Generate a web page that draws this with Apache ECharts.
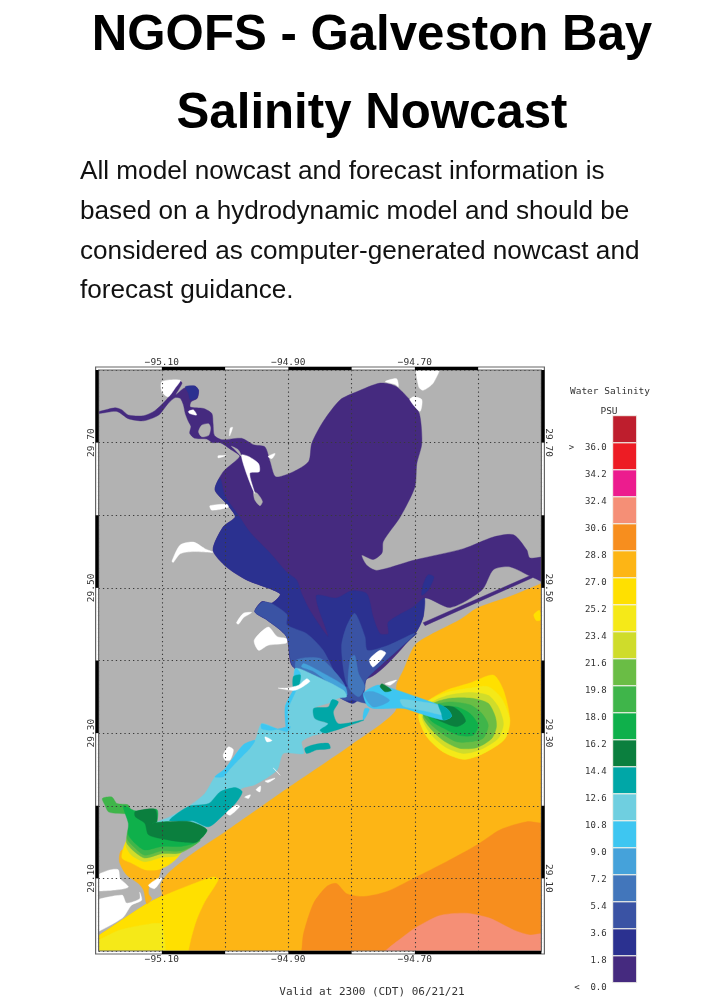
<!DOCTYPE html>
<html>
<head>
<meta charset="utf-8">
<script src="https://cdn.jsdelivr.net/npm/echarts@6/dist/echarts.min.js"></script>
<style>
  html, body { margin: 0; background: #fff; }
  #chart { width: 724px; height: 1000px; }
</style>
</head>
<body>
<div id="chart"></div>
<script>
const headline = ["NGOFS - Galveston Bay", "Salinity Nowcast"];
const introLines = [
  "All model nowcast and forecast information is",
  "based on a hydrodynamic model and should be",
  "considered as computer-generated nowcast and",
  "forecast guidance.",
];
const lonLabels = [-95.1, -94.9, -94.7];
const latLabels = [29.7, 29.5, 29.3, 29.1];
const blackTop = [[-95.1, -95.0], [-94.9, -94.8], [-94.7, -94.6]];
const blackBottom = [[-95.1, -95.0], [-94.9, -94.8], [-94.7, -94.5]];
const blackLat = [[29.7, 29.8], [29.5, 29.6], [29.3, 29.4], [29.1, 29.2]];

// colour bar, bottom cell first, one cell per 1.8 PSU
const barEdges = [0, 1.8, 3.6, 5.4, 7.2, 9, 10.8, 12.6, 14.4, 16.2, 18, 19.8, 21.6, 23.4, 25.2, 27, 28.8, 30.6, 32.4, 34.2, 36];
const barColors = ["#452a7f", "#2b3190", "#3a53a4", "#4276bb", "#45a2da", "#3ec6f1", "#6fcfe0", "#00a7a7", "#0b7f3e", "#0fb04b", "#3fb54a", "#6abd45", "#cfdc2b", "#f5e918", "#ffe000", "#fdb515", "#f78e1e", "#f58f76", "#ec1c8e", "#ed1c24", "#be1e2d"];

// contour rings, [lon, lat]; rings run past the frame where they meet it
const gulf = [[-95.23,29.003],[-95.2,29.021],[-95.124,29.065],[-95.1,29.077],[-95.102,29.091],[-95.09,29.107],[-95.055,29.132],[-95,29.164],[-94.903,29.223],[-94.8,29.284],[-94.731,29.33],[-94.729,29.366],[-94.718,29.387],[-94.7,29.421],[-94.676,29.435],[-94.629,29.456],[-94.602,29.472],[-94.55,29.488],[-94.5,29.506],[-94.47,29.517],[-94.47,28.97],[-95.23,28.97]];
const gulfOrange = [[-94.885,28.97],[-94.879,29],[-94.876,29.024],[-94.86,29.066],[-94.839,29.089],[-94.824,29.093],[-94.808,29.079],[-94.781,29.075],[-94.744,29.082],[-94.702,29.1],[-94.65,29.123],[-94.602,29.146],[-94.565,29.167],[-94.523,29.178],[-94.5,29.176],[-94.47,29.176],[-94.47,28.97]];
const gulfSalmon = [[-94.78,28.97],[-94.747,29],[-94.718,29.02],[-94.697,29.033],[-94.66,29.049],[-94.618,29.052],[-94.581,29.045],[-94.544,29.029],[-94.518,29.022],[-94.5,29.024],[-94.47,29.024],[-94.47,28.97]];
const gulfYellow = [[-95.23,29.003],[-95.2,29.021],[-95.124,29.065],[-95.103,29.074],[-95.055,29.091],[-95.018,29.102],[-95.011,29.098],[-95.032,29.068],[-95.045,29.043],[-95.053,29.02],[-95.058,29],[-95.063,28.97],[-95.23,28.97]];
const gulfPale = [[-95.23,29.003],[-95.2,29.015],[-95.166,29.029],[-95.121,29.037],[-95.1,29.036],[-95.1,28.97],[-95.23,28.97]];
const gulfSpot = [[-94.512,29.463],[-94.503,29.469],[-94.501,29.456],[-94.508,29.455]];

const plumeYellow = [[-94.694,29.323],[-94.681,29.343],[-94.65,29.359],[-94.613,29.369],[-94.576,29.38],[-94.56,29.359],[-94.55,29.318],[-94.56,29.29],[-94.597,29.27],[-94.623,29.264],[-94.655,29.274],[-94.681,29.295]];
const plumePale = [[-94.694,29.323],[-94.681,29.343],[-94.65,29.356],[-94.613,29.362],[-94.584,29.364],[-94.563,29.348],[-94.55,29.318],[-94.557,29.293],[-94.592,29.272],[-94.623,29.264],[-94.655,29.274],[-94.681,29.295]];
const plumeLime = [[-94.689,29.323],[-94.676,29.341],[-94.647,29.352],[-94.613,29.356],[-94.584,29.352],[-94.568,29.336],[-94.56,29.313],[-94.568,29.293],[-94.597,29.277],[-94.623,29.272],[-94.652,29.281],[-94.676,29.3]];
const plumeGrass = [[-94.687,29.323],[-94.671,29.341],[-94.644,29.348],[-94.61,29.348],[-94.584,29.341],[-94.573,29.323],[-94.571,29.309],[-94.578,29.293],[-94.602,29.28],[-94.629,29.279],[-94.652,29.288],[-94.673,29.304]];
const plumeGreen = [[-94.687,29.327],[-94.668,29.339],[-94.644,29.343],[-94.613,29.339],[-94.594,29.327],[-94.584,29.311],[-94.592,29.293],[-94.613,29.288],[-94.634,29.288],[-94.658,29.3],[-94.676,29.313]];
const plumeEmerald = [[-94.681,29.327],[-94.66,29.334],[-94.634,29.336],[-94.613,29.327],[-94.6,29.311],[-94.608,29.297],[-94.631,29.297],[-94.655,29.307],[-94.673,29.316]];
const plumeDark = [[-94.676,29.325],[-94.655,29.337],[-94.639,29.336],[-94.626,29.327],[-94.62,29.316],[-94.634,29.309],[-94.658,29.316]];
const jetBlue = [[-94.781,29.355],[-94.76,29.366],[-94.745,29.364],[-94.681,29.345],[-94.65,29.334],[-94.642,29.323],[-94.655,29.318],[-94.692,29.327],[-94.718,29.334],[-94.766,29.334],[-94.776,29.339]];
const jetMid = [[-94.781,29.355],[-94.765,29.357],[-94.74,29.345],[-94.766,29.336]];
const jetPale = [[-94.723,29.346],[-94.681,29.342],[-94.658,29.337],[-94.643,29.324],[-94.658,29.325],[-94.687,29.331],[-94.718,29.337]];
const jetTeal = [[-94.663,29.34],[-94.647,29.332],[-94.642,29.323],[-94.655,29.318],[-94.658,29.327]];
const jetGreen = [[-94.752,29.368],[-94.737,29.359],[-94.747,29.357],[-94.755,29.364]];

const upperBay = [[-95.21,29.743],[-95.199,29.743],[-95.174,29.748],[-95.163,29.745],[-95.153,29.738],[-95.129,29.737],[-95.111,29.744],[-95.091,29.761],[-95.073,29.785],[-95.068,29.782],[-95.078,29.766],[-95.065,29.775],[-95.048,29.778],[-95.042,29.772],[-95.044,29.761],[-95.054,29.756],[-95.055,29.749],[-95.034,29.747],[-95.021,29.74],[-95.019,29.726],[-95.017,29.71],[-95.005,29.704],[-94.974,29.706],[-94.955,29.697],[-94.937,29.694],[-94.929,29.674],[-94.92,29.653],[-94.892,29.66],[-94.868,29.674],[-94.863,29.699],[-94.845,29.729],[-94.818,29.759],[-94.792,29.77],[-94.755,29.782],[-94.731,29.778],[-94.708,29.759],[-94.693,29.74],[-94.689,29.699],[-94.697,29.671],[-94.7,29.639],[-94.723,29.598],[-94.75,29.564],[-94.752,29.548],[-94.766,29.539],[-94.784,29.545],[-94.776,29.531],[-94.76,29.524],[-94.702,29.538],[-94.623,29.554],[-94.576,29.57],[-94.544,29.573],[-94.523,29.552],[-94.518,29.541],[-94.47,29.544],[-94.47,29.5],[-94.515,29.515],[-94.55,29.529],[-94.576,29.525],[-94.594,29.497],[-94.644,29.473],[-94.684,29.486],[-94.687,29.46],[-94.7,29.437],[-94.776,29.375],[-94.892,29.391],[-94.903,29.433],[-94.934,29.456],[-94.953,29.467],[-94.942,29.481],[-94.926,29.479],[-94.913,29.492],[-94.966,29.511],[-94.998,29.529],[-95.019,29.552],[-95.003,29.584],[-94.984,29.598],[-94.998,29.616],[-95.016,29.635],[-95.003,29.66],[-94.977,29.681],[-94.99,29.69],[-95.008,29.7],[-95.02,29.7],[-95.029,29.705],[-95.048,29.706],[-95.056,29.713],[-95.054,29.722],[-95.058,29.729],[-95.063,29.74],[-95.066,29.752],[-95.071,29.761],[-95.079,29.762],[-95.09,29.754],[-95.105,29.738],[-95.129,29.73],[-95.153,29.733],[-95.171,29.743],[-95.199,29.74],[-95.21,29.74]];
const shipPurple = [[-94.687,29.452],[-94.515,29.518],[-94.514,29.514],[-94.684,29.448]];
const midBay = [[-95.016,29.635],[-95.008,29.651],[-95,29.626],[-94.979,29.6],[-94.961,29.577],[-94.929,29.548],[-94.903,29.522],[-94.887,29.511],[-94.879,29.492],[-94.866,29.469],[-94.837,29.433],[-94.853,29.474],[-94.855,29.49],[-94.824,29.486],[-94.8,29.496],[-94.776,29.492],[-94.766,29.46],[-94.755,29.437],[-94.742,29.437],[-94.742,29.453],[-94.702,29.474],[-94.685,29.486],[-94.687,29.46],[-94.7,29.437],[-94.776,29.375],[-94.781,29.355],[-94.797,29.341],[-94.813,29.346],[-94.892,29.391],[-94.903,29.433],[-94.934,29.456],[-94.953,29.467],[-94.942,29.481],[-94.926,29.479],[-94.913,29.492],[-94.966,29.511],[-94.998,29.529],[-95.019,29.552],[-95.003,29.584],[-94.984,29.598],[-94.998,29.616]];
const midStreak = [[-94.679,29.518],[-94.67,29.515],[-94.679,29.497],[-94.689,29.49],[-94.687,29.504]];
const riverBasin = [[-95.063,29.777],[-95.048,29.778],[-95.042,29.772],[-95.045,29.761],[-95.055,29.759],[-95.058,29.768]];
const shipBlue = [[-94.7,29.44],[-94.784,29.375],[-94.781,29.373],[-94.697,29.437]];
const lowerWest = [[-94.953,29.467],[-94.942,29.48],[-94.928,29.479],[-94.916,29.473],[-94.902,29.463],[-94.902,29.449],[-94.871,29.437],[-94.845,29.414],[-94.821,29.373],[-94.8,29.346],[-94.813,29.346],[-94.892,29.391],[-94.903,29.433],[-94.934,29.456]];
const lowerEast = [[-94.816,29.419],[-94.808,29.447],[-94.795,29.465],[-94.779,29.433],[-94.775,29.414],[-94.742,29.421],[-94.7,29.437],[-94.776,29.375],[-94.789,29.35],[-94.808,29.368]];
const lowerMouth = [[-94.808,29.364],[-94.781,29.357],[-94.771,29.341],[-94.787,29.343],[-94.802,29.348]];
const entranceEast = [[-94.802,29.403],[-94.795,29.407],[-94.789,29.382],[-94.779,29.364],[-94.789,29.35],[-94.805,29.364]];
const entranceWest = [[-94.887,29.401],[-94.85,29.403],[-94.824,29.382],[-94.81,29.364],[-94.813,29.35],[-94.85,29.368],[-94.887,29.384]];
const entranceStripe = [[-94.876,29.396],[-94.85,29.385],[-94.81,29.364],[-94.808,29.352],[-94.86,29.385],[-94.879,29.391]];

const westBay = [[-94.889,29.389],[-94.86,29.38],[-94.813,29.359],[-94.808,29.35],[-94.821,29.348],[-94.831,29.343],[-94.86,29.334],[-94.858,29.32],[-94.834,29.311],[-94.847,29.3],[-94.86,29.297],[-94.879,29.288],[-94.876,29.272],[-94.908,29.272],[-94.918,29.249],[-94.953,29.229],[-94.973,29.224],[-94.987,29.21],[-95,29.19],[-95.029,29.171],[-95.071,29.18],[-95.114,29.175],[-95.087,29.185],[-95.058,29.199],[-95.032,29.217],[-95.016,29.24],[-95,29.251],[-94.971,29.284],[-94.953,29.29],[-94.942,29.313],[-94.903,29.302],[-94.905,29.336],[-94.892,29.359]];
const westShore = [[-95,29.251],[-94.971,29.284],[-94.953,29.29],[-94.961,29.279],[-94.979,29.263],[-94.992,29.251],[-95.003,29.24],[-95.016,29.24]];
const westNotch = [[-94.942,29.313],[-94.903,29.302],[-94.897,29.309],[-94.926,29.304],[-94.942,29.306]];
const westNorth = [[-94.892,29.359],[-94.905,29.336],[-94.903,29.302],[-94.9,29.311],[-94.901,29.332],[-94.888,29.359]];
const westInlet = [[-94.889,29.389],[-94.881,29.382],[-94.887,29.359],[-94.892,29.359]];
const pelicanEdge = [[-94.779,29.334],[-94.772,29.333],[-94.781,29.318],[-94.782,29.323]];
const tealHook = [[-94.86,29.334],[-94.837,29.336],[-94.831,29.346],[-94.821,29.343],[-94.829,29.329],[-94.821,29.313],[-94.781,29.318],[-94.802,29.311],[-94.842,29.3],[-94.85,29.304],[-94.837,29.313],[-94.858,29.32]];
const tealBar = [[-94.874,29.279],[-94.86,29.284],[-94.837,29.286],[-94.834,29.279],[-94.855,29.277],[-94.871,29.272]];
const tealInlet = [[-94.892,29.378],[-94.881,29.38],[-94.884,29.364],[-94.892,29.362]];
const tealSouth = [[-95.088,29.18],[-95.058,29.199],[-95.026,29.203],[-95.008,29.219],[-94.984,29.225],[-94.973,29.219],[-94.984,29.203],[-95.003,29.187],[-95.026,29.171],[-95.05,29.179],[-95.071,29.178]];

const chocOrange = [[-95.167,29.123],[-95.163,29.139],[-95.075,29.139],[-95.083,29.126],[-95.1,29.114],[-95.106,29.1],[-95.119,29.091],[-95.121,29.079],[-95.116,29.072],[-95.124,29.065],[-95.129,29.084],[-95.137,29.093],[-95.156,29.105]];
const chocYellow = [[-95.163,29.128],[-95.159,29.146],[-95.148,29.16],[-95.055,29.16],[-95.075,29.129],[-95.09,29.118],[-95.106,29.112],[-95.127,29.112],[-95.148,29.121]];
const chocLime = [[-95.157,29.146],[-95.148,29.132],[-95.127,29.123],[-95.1,29.129],[-95.074,29.132],[-95.055,29.16],[-95.148,29.16]];
const chocGrass = [[-95.156,29.15],[-95.145,29.138],[-95.127,29.128],[-95.1,29.134],[-95.071,29.135],[-95.045,29.15],[-95.15,29.166]];
const chocGreen = [[-95.155,29.155],[-95.145,29.144],[-95.127,29.132],[-95.1,29.138],[-95.069,29.138],[-95.04,29.153],[-95.15,29.171]];
const chocTip = [[-95.194,29.21],[-95.179,29.212],[-95.171,29.203],[-95.153,29.201],[-95.15,29.19],[-95.177,29.19],[-95.185,29.192],[-95.19,29.201]];
const chocEmerald = [[-95.161,29.2],[-95.142,29.193],[-95.108,29.195],[-95.108,29.178],[-95.116,29.176],[-95.09,29.178],[-95.029,29.167],[-95.045,29.15],[-95.069,29.144],[-95.1,29.144],[-95.127,29.139],[-95.142,29.148],[-95.153,29.16],[-95.153,29.176]];
const chocDark = [[-95.142,29.192],[-95.111,29.195],[-95.108,29.178],[-95.116,29.176],[-95.09,29.178],[-95.055,29.178],[-95.029,29.167],[-95.045,29.15],[-95.066,29.15],[-95.09,29.153],[-95.121,29.16],[-95.127,29.176],[-95.142,29.185]];

const greyIslands = [
  [[-95.042,29.715],[-95.037,29.724],[-95.026,29.726],[-95.023,29.72],[-95.026,29.71],[-95.037,29.708]],
  [[-94.955,29.632],[-94.949,29.63],[-94.941,29.619],[-94.945,29.613],[-94.953,29.621]],
  [[-94.99,29.695],[-94.979,29.69],[-94.974,29.681],[-94.984,29.69]],
];
const whiteIslands = [
  [[-95.058,29.743],[-95.05,29.745],[-95.045,29.738],[-95.056,29.74]],
  [[-94.974,29.683],[-94.963,29.681],[-94.947,29.671],[-94.946,29.66],[-94.961,29.658],[-94.953,29.63],[-94.958,29.639],[-94.968,29.662]],
  [[-95.1,29.784],[-95.071,29.786],[-95.079,29.775],[-95.09,29.763],[-95.1,29.77]],
  [[-94.697,29.81],[-94.659,29.81],[-94.671,29.782],[-94.687,29.772],[-94.694,29.777]],
  [[-94.702,29.763],[-94.689,29.759],[-94.692,29.743],[-94.708,29.759]],
  [[-94.747,29.784],[-94.729,29.788],[-94.726,29.777],[-94.731,29.78]],
  [[-95.024,29.613],[-94.997,29.615],[-94.995,29.611],[-95.021,29.607]],
  [[-95.084,29.537],[-95.071,29.559],[-95.05,29.563],[-95.032,29.554],[-95.019,29.549],[-95.05,29.55],[-95.071,29.547],[-95.082,29.535]],
  [[-94.982,29.452],[-94.971,29.465],[-94.958,29.466],[-94.971,29.459],[-94.979,29.45]],
  [[-94.954,29.428],[-94.932,29.446],[-94.918,29.433],[-94.903,29.43],[-94.903,29.424],[-94.932,29.421],[-94.947,29.414]],
  [[-94.772,29.401],[-94.755,29.414],[-94.746,29.41],[-94.766,29.391]],
  [[-95.011,29.682],[-94.999,29.682],[-95.011,29.679]],
  [[-94.992,29.72],[-94.988,29.721],[-94.993,29.709]],
  [[-94.932,29.681],[-94.921,29.685],[-94.926,29.678]],
  [[-95.21,29.1],[-95.185,29.111],[-95.169,29.112],[-95.166,29.1],[-95.153,29.088],[-95.174,29.084],[-95.21,29.084]],
  [[-95.22,29.063],[-95.163,29.077],[-95.156,29.066],[-95.135,29.072],[-95.135,29.081],[-95.132,29.07],[-95.148,29.063],[-95.163,29.045],[-95.22,29.022]],
  [[-95.121,29.091],[-95.106,29.1],[-95.1,29.1],[-95.111,29.086],[-95.119,29.088]],
  [[-95.003,29.27],[-94.995,29.281],[-94.987,29.277],[-94.992,29.263],[-95,29.263]],
  [[-94.937,29.295],[-94.926,29.29],[-94.934,29.288]],
  [[-94.916,29.362],[-94.889,29.359],[-94.866,29.371],[-94.871,29.375],[-94.884,29.366],[-94.903,29.362]],
  [[-94.951,29.222],[-94.944,29.227],[-94.945,29.219]],
  [[-94.937,29.234],[-94.921,29.238],[-94.932,29.232]],
  [[-94.924,29.252],[-94.913,29.242],[-94.918,29.247]],
  [[-94.969,29.212],[-94.96,29.215],[-94.963,29.21]],
  [[-94.998,29.19],[-94.982,29.201],[-94.977,29.199],[-94.992,29.187]],
  [[-94.747,29.368],[-94.729,29.373],[-94.739,29.366]],
];

// paint order, ring then the salinity read for it
const contours = [
  [gulf, 27.9], [gulfOrange, 29.7], [gulfSalmon, 31.5], [gulfYellow, 26.1], [gulfPale, 24.3], [gulfSpot, 26.1],
  [plumeYellow, 26.1], [plumePale, 24.3], [plumeLime, 22.5], [plumeGrass, 20.7], [plumeGreen, 18.9], [plumeEmerald, 17.1], [plumeDark, 15.3],
  [upperBay, 0.9], [shipPurple, 0.9], [midBay, 2.7], [midStreak, 2.7], [riverBasin, 2.7], [shipBlue, 2.7],
  [lowerWest, 4.5], [lowerEast, 4.5], [lowerMouth, 4.5], [entranceEast, 6.3], [entranceWest, 6.3], [entranceStripe, 8.1],
  [westBay, 11.7], [westShore, 9.9], [westNotch, 9.9], [westNorth, 9.9], [westInlet, 9.9], [pelicanEdge, 9.9],
  [tealHook, 13.5], [tealBar, 13.5], [tealInlet, 13.5], [tealSouth, 13.5],
  [jetBlue, 9.9], [jetMid, 8.1], [jetPale, 11.7], [jetTeal, 13.5], [jetGreen, 15.3],
  [chocOrange, 27.9], [chocYellow, 26.1], [chocLime, 22.5], [chocGrass, 20.7], [chocGreen, 18.9], [chocTip, 18.9], [chocEmerald, 17.1], [chocDark, 15.3],
];

const TICK_FONT = "DejaVu Sans Mono";
const TICK_COLOR = "#333";
const thinRings = [shipPurple, shipBlue];

function ringFill(ring, fill) {
  return { ring, fill };
}

const mapShapes = [
  ...contours.map(([ring, psu]) => ringFill(ring, barColors[Math.floor(psu / 1.8)])),
  ...greyIslands.map((ring) => ringFill(ring, "#b2b2b2")),
  ...whiteIslands.map((ring) => ringFill(ring, "#ffffff")),
];

function renderShape(params, api) {
  const shape = mapShapes[params.dataIndex];
  return {
    type: "polygon",
    shape: { points: shape.ring.map((p) => api.coord(p)), smooth: thinRings.includes(shape.ring) ? 0 : 0.25 },
    style: { fill: shape.fill, stroke: shape.fill, lineWidth: 0.4 },
  };
}

function renderFrame(params, api) {
  const sys = params.coordSys;
  const thin = { fill: "none", stroke: "#666", lineWidth: 1.2 };
  const pad = 3;
  const children = [
    { type: "rect", shape: { x: sys.x, y: sys.y, width: sys.width, height: sys.height }, style: thin },
    { type: "rect", shape: { x: sys.x - pad, y: sys.y - pad, width: sys.width + 2 * pad, height: sys.height + 2 * pad }, style: thin },
  ];
  const lonBand = (list, y) => list.forEach(([a, b]) => {
    const x0 = api.coord([a, 29])[0];
    const x1 = api.coord([b, 29])[0];
    children.push({ type: "rect", shape: { x: x0, y, width: x1 - x0, height: pad }, style: { fill: "#000" } });
  });
  lonBand(blackTop, sys.y - pad);
  lonBand(blackBottom, sys.y + sys.height);
  blackLat.forEach(([a, b]) => {
    const y0 = api.coord([-95, b])[1];
    const y1 = api.coord([-95, a])[1];
    [sys.x - pad, sys.x + sys.width].forEach((x) => {
      children.push({ type: "rect", shape: { x, y: y0, width: pad, height: y1 - y0 }, style: { fill: "#000" } });
    });
  });
  return { type: "group", children };
}

function renderCell(params, api) {
  const low = barEdges[params.dataIndex];
  const a = api.coord([0, low + 1.8]);
  const b = api.coord([1, low]);
  return {
    type: "rect",
    shape: { x: a[0], y: a[1], width: b[0] - a[0], height: b[1] - a[1] },
    style: { fill: barColors[params.dataIndex], stroke: "#f2f2ea", lineWidth: 1 },
  };
}

function isLabelled(list, v) {
  return list.some((t) => Math.abs(t - v) < 0.001);
}

function lonAxis(position, margin) {
  return {
    type: "value", gridIndex: 0, position, min: -95.2, max: -94.5, interval: 0.1, z: 6,
    axisLine: { show: false }, axisTick: { show: false },
    axisLabel: {
      margin, fontFamily: TICK_FONT, fontSize: 9.5, color: TICK_COLOR,
      formatter: (v) => (isLabelled(lonLabels, v) ? v.toFixed(2).replace("-", "\u2212") : ""),
    },
    splitLine: { show: position === "bottom", lineStyle: { color: "#3a3a3a", width: 1.1, type: [1.3, 3] } },
  };
}

function latAxis(position, rotate) {
  return {
    type: "value", gridIndex: 0, position, min: 29, max: 29.8, interval: 0.1, z: 6,
    axisLine: { show: false }, axisTick: { show: false },
    axisLabel: {
      rotate, margin: 2, fontFamily: TICK_FONT, fontSize: 9.5, color: TICK_COLOR,
      formatter: (v) => (isLabelled(latLabels, v) ? v.toFixed(2) : ""),
    },
    splitLine: { show: position === "left", lineStyle: { color: "#3a3a3a", width: 1.1, type: [1.3, 3] } },
  };
}

function caption(text, left, top, style) {
  return { text, left, top, textAlign: style.textAlign || "left", textVerticalAlign: "middle", padding: 0, textStyle: style };
}

const headStyle = { fontFamily: "Liberation Sans", fontSize: 49.2, fontWeight: "bold", color: "#000", textAlign: "center" };
const bodyStyle = { fontFamily: "Liberation Sans", fontSize: 26.15, fontWeight: "normal", color: "#111" };
const smallStyle = { fontFamily: TICK_FONT, fontSize: 9.5, fontWeight: "normal", color: TICK_COLOR, textAlign: "center" };

const chart = echarts.init(document.getElementById("chart"), null, { renderer: "canvas" });
chart.setOption({
  animation: false,
  backgroundColor: "#fff",
  title: [
    caption(headline[0], 372, 36, headStyle),
    caption(headline[1], 372, 114, headStyle),
    ...introLines.map((line, i) => caption(line, 80, 172 + i * 39.7, bodyStyle)),
    caption("Water Salinity", 610, 392, smallStyle),
    caption("PSU", 609, 412, smallStyle),
    caption("Valid at 2300 (CDT) 06/21/21", 372, 992, { ...smallStyle, fontSize: 11 }),
  ],
  grid: [
    { left: 98.6, top: 370, width: 442.8, height: 581, show: true, backgroundColor: "#b2b2b2", borderWidth: 0 },
    { left: 612.7, top: 415.7, width: 24, height: 567 },
  ],
  xAxis: [
    lonAxis("bottom", 3.5),
    lonAxis("top", 2),
    { type: "value", gridIndex: 1, min: 0, max: 1, show: false },
  ],
  yAxis: [
    latAxis("left", 90),
    latAxis("right", -90),
    {
      type: "value", gridIndex: 1, min: 0, max: 37.8, interval: 1.8,
      axisLine: { show: false }, axisTick: { show: false }, splitLine: { show: false },
      axisLabel: {
        margin: 6, fontFamily: TICK_FONT, fontSize: 9, color: TICK_COLOR, verticalAlign: "top",
        formatter: (v) => {
          if (!isLabelled(barEdges, v)) return "";
          if (v < 0.1) return "<  0.0";
          if (v > 35.9) return ">  36.0";
          return v.toFixed(1);
        },
      },
    },
  ],
  series: [
    {
      type: "custom", xAxisIndex: 0, yAxisIndex: 0, clip: true, z: 2, silent: true,
      data: mapShapes.map((s, i) => [i]), encode: { x: [], y: [] }, renderItem: renderShape,
    },
    {
      type: "custom", xAxisIndex: 0, yAxisIndex: 0, clip: false, z: 8, silent: true,
      data: [[0]], encode: { x: [], y: [] }, renderItem: renderFrame,
    },
    {
      type: "custom", xAxisIndex: 2, yAxisIndex: 2, clip: false, z: 2, silent: true,
      data: barEdges.map((e) => [e]), encode: { x: [], y: [] }, renderItem: renderCell,
    },
  ],
});
</script>
</body>
</html>
